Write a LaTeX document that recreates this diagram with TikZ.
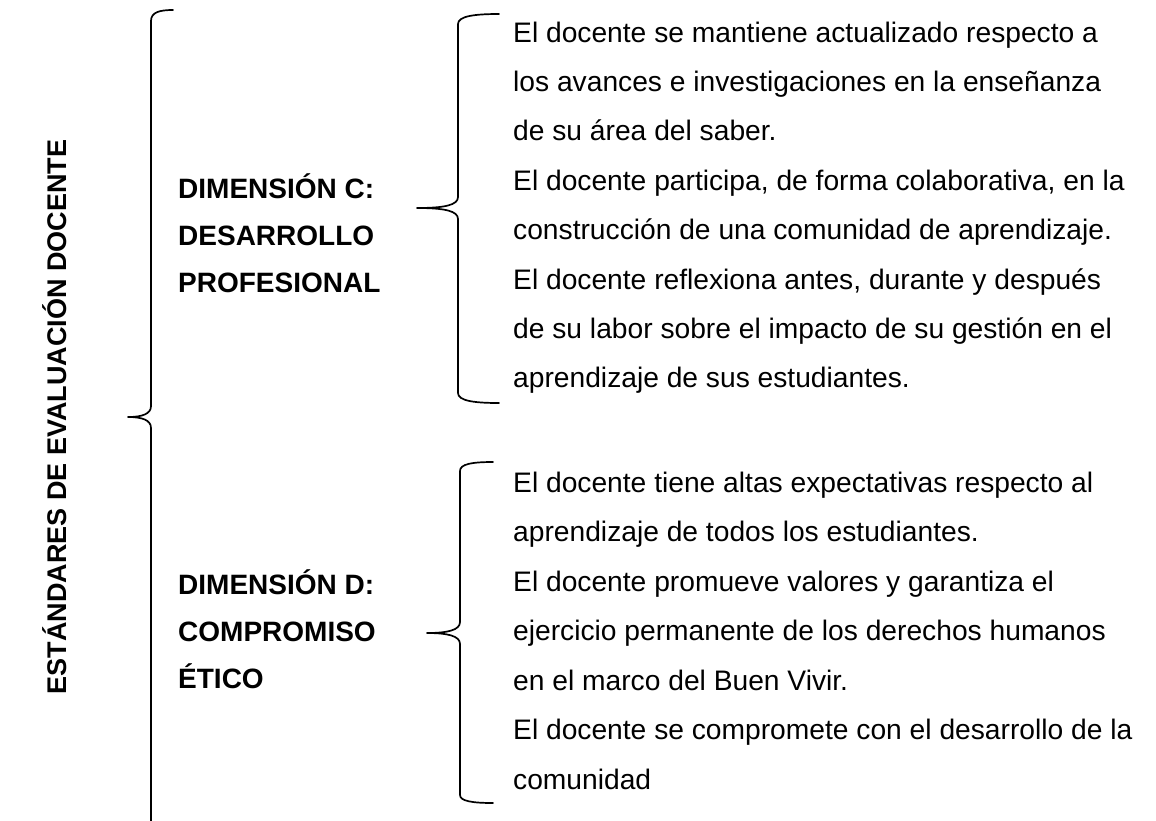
\documentclass[tikz,border=0pt]{standalone}
\usepackage{fontspec}
\setmainfont{Liberation Sans}
\begin{document}
\begin{tikzpicture}[x=1pt,y=-1pt]
\tikzset{
  body/.style={anchor=base west, inner sep=0pt, font=\fontsize{28.2}{34}\selectfont},
  dimlabel/.style={anchor=base west, inner sep=0pt, font=\fontsize{28}{32}\selectfont\bfseries},
  titlelabel/.style={rotate=90, inner sep=0pt, font=\fontsize{27}{32}\selectfont\bfseries},
  bracepath/.style={draw=black, line width=1.7pt, line cap=round, line join=round}
}
\useasboundingbox (0,0) rectangle (1156,820);
\clip (0,0) rectangle (1156,820);
\fill[white] (0,0) rectangle (1156,820);

% title
\node[titlelabel] (title) at (55,417) {ESTÁNDARES DE EVALUACIÓN DOCENTE};

% big brace
\draw[bracepath] (173,10) .. controls (160,10) and (151,12) .. (151,21)
  -- (151,406) .. controls (151,414) and (142,417) .. (128,417)
  .. controls (142,417) and (151,420) .. (151,428) -- (151,830);

% dimension labels
\node[dimlabel] (c1) at (178,198) {DIMENSIÓN C:};
\node[dimlabel] (c2) at (178,245) {DESARROLLO};
\node[dimlabel] (c3) at (178,292) {PROFESIONAL};

\node[dimlabel] (d1) at (178,594) {DIMENSIÓN D:};
\node[dimlabel] (d2) at (178,641) {COMPROMISO};
\node[dimlabel] (d3) at (178,688) {ÉTICO};

% brace C
\draw[bracepath] (499,14) .. controls (475,14) and (458,16) .. (458,24)
  -- (458,197) .. controls (458,205) and (445,208) .. (417,208)
  .. controls (445,208) and (458,211) .. (458,219)
  -- (458,393) .. controls (458,401) and (475,403) .. (499,403);

% brace D
\draw[bracepath] (493,462) .. controls (472,462) and (460,464) .. (460,471)
  -- (460,622) .. controls (460,630) and (448,633) .. (427,633)
  .. controls (448,633) and (460,636) .. (460,644)
  -- (460,795) .. controls (460,801) and (472,803) .. (493,803);

% group C texts
\node[body] (t1) at (513,42) {El docente se mantiene actualizado respecto a};
\node[body] (t2) at (513,91.4) {los avances e investigaciones en la enseñanza};
\node[body] (t3) at (513,140.8) {de su área del saber.};
\node[body] (t4) at (513,190.2) {El docente participa, de forma colaborativa, en la};
\node[body] (t5) at (513,239.6) {construcción de una comunidad de aprendizaje.};
\node[body] (t6) at (513,289) {El docente reflexiona antes, durante y después};
\node[body] (t7) at (513,338.4) {de su labor sobre el impacto de su gestión en el};
\node[body] (t8) at (513,387.8) {aprendizaje de sus estudiantes.};

% group D texts
\node[body] (u1) at (513,492) {El docente tiene altas expectativas respecto al};
\node[body] (u2) at (513,541.5) {aprendizaje de todos los estudiantes.};
\node[body] (u3) at (513,591) {El docente promueve valores y garantiza el};
\node[body] (u4) at (513,640.5) {ejercicio permanente de los derechos humanos};
\node[body] (u5) at (513,690) {en el marco del Buen Vivir.};
\node[body] (u6) at (513,739.5) {El docente se compromete con el desarrollo de la};
\node[body] (u7) at (513,789) {comunidad};
\end{tikzpicture}
\end{document}
